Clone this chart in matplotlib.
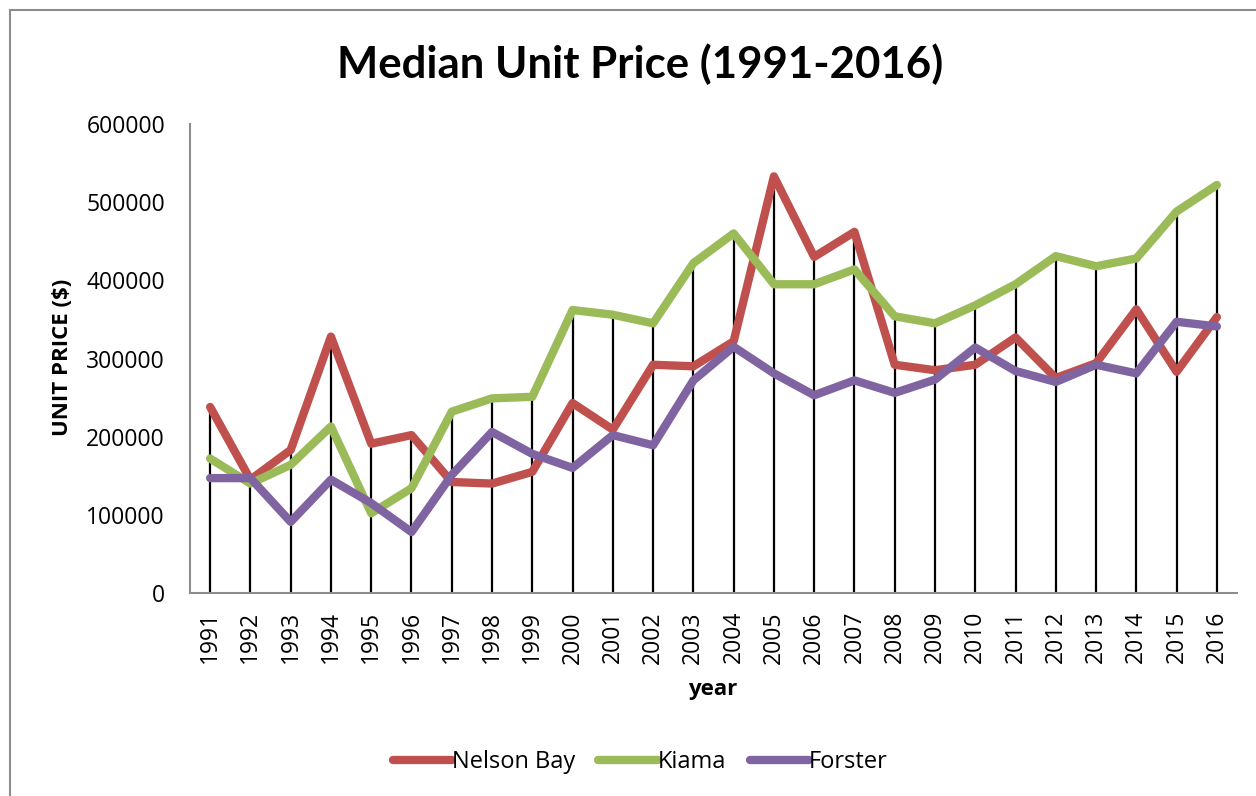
import matplotlib
matplotlib.use("Agg")
import matplotlib.pyplot as plt
from matplotlib.lines import Line2D
import numpy as np

years = list(range(1991, 2017))
nelson_bay = [238000, 145000, 183000, 328000, 191000, 202000, 142000, 140000, 155000, 243000,
              209000, 292000, 290000, 322000, 533000, 430000, 462000, 292000, 285000, 292000,
              327000, 275000, 294000, 363000, 283000, 353000]
kiama = [172000, 140000, 164000, 213000, 102000, 134000, 232000, 249000, 251000, 362000,
         356000, 345000, 422000, 460000, 395000, 395000, 414000, 354000, 345000, 368000,
         395000, 431000, 418000, 428000, 488000, 522000]
forster = [147000, 147000, 91000, 145000, 115000, 78000, 151000, 206000, 178000, 160000,
           202000, 189000, 272000, 315000, 281000, 253000, 272000, 256000, 273000, 314000,
           284000, 270000, 292000, 281000, 347000, 341000]
series_names = ["Nelson Bay", "Kiama", "Forster"]
colors = ["#C0504D", "#9BBB59", "#8064A2"]

plt.rcParams['font.family'] = ['Open Sans', 'DejaVu Sans']

fig = plt.figure(figsize=(12.56, 7.96), dpi=100)
ax = fig.add_axes([190/1256, 1-593/796, (1237-190)/1256, (593-124)/796])

# border of the chart area (left & top visible)
fig.add_artist(Line2D([10/1256, 10/1256], [0, 1-10/796], transform=fig.transFigure,
                      color="#8C8C8C", lw=1.5))
fig.add_artist(Line2D([10/1256, 1], [1-10/796, 1-10/796], transform=fig.transFigure,
                      color="#8C8C8C", lw=1.5))

data = [nelson_bay, kiama, forster]
maxvals = np.max(np.array(data), axis=0)
ax.vlines(years, 0, maxvals, colors="black", lw=1.6, zorder=1)

for name, vals, c in zip(series_names, data, colors):
    ax.plot(years, vals, color=c, lw=6, solid_capstyle="round", solid_joinstyle="round",
            label=name, zorder=3)

ax.set_xlim(1990.5, 2016.5)
ax.set_ylim(0, 600000)
ax.set_yticks(range(0, 600001, 100000))
ax.set_yticklabels([str(v) for v in range(0, 600001, 100000)])
ax.set_xticks(years)
ax.set_xticklabels([str(y) for y in years], rotation=90)
ax.tick_params(axis="both", length=0, labelsize=16.5)
ax.tick_params(axis="x", pad=13)
ax.tick_params(axis="y", pad=18)
for s in ["top", "right"]:
    ax.spines[s].set_visible(False)
for s in ["left", "bottom"]:
    ax.spines[s].set_color("#8C8C8C")
    ax.spines[s].set_linewidth(1.5)

fig.text(640/1256, 1-64/796, "Median Unit Price (1991-2016)", ha="center", va="center",
         fontsize=31.5, fontweight="bold", family=["Lato", "DejaVu Sans"])
fig.text(62/1256, 1-357/796, "UNIT PRICE ($)", ha="center", va="center", rotation=90,
         fontsize=16, fontweight="bold")
fig.text(713/1256, 1-690/796, "year", ha="center", va="center", fontsize=16, fontweight="bold")

handles = [Line2D([0], [0], color=c, lw=6, solid_capstyle="round") for c in colors]
fig.legend(handles, series_names, loc="center", bbox_to_anchor=(640/1256, 1-762/796),
           ncol=3, frameon=False, fontsize=17, handlelength=2.5, handletextpad=0.0,
           columnspacing=1.0)

fig.savefig("out.png", dpi=100)
